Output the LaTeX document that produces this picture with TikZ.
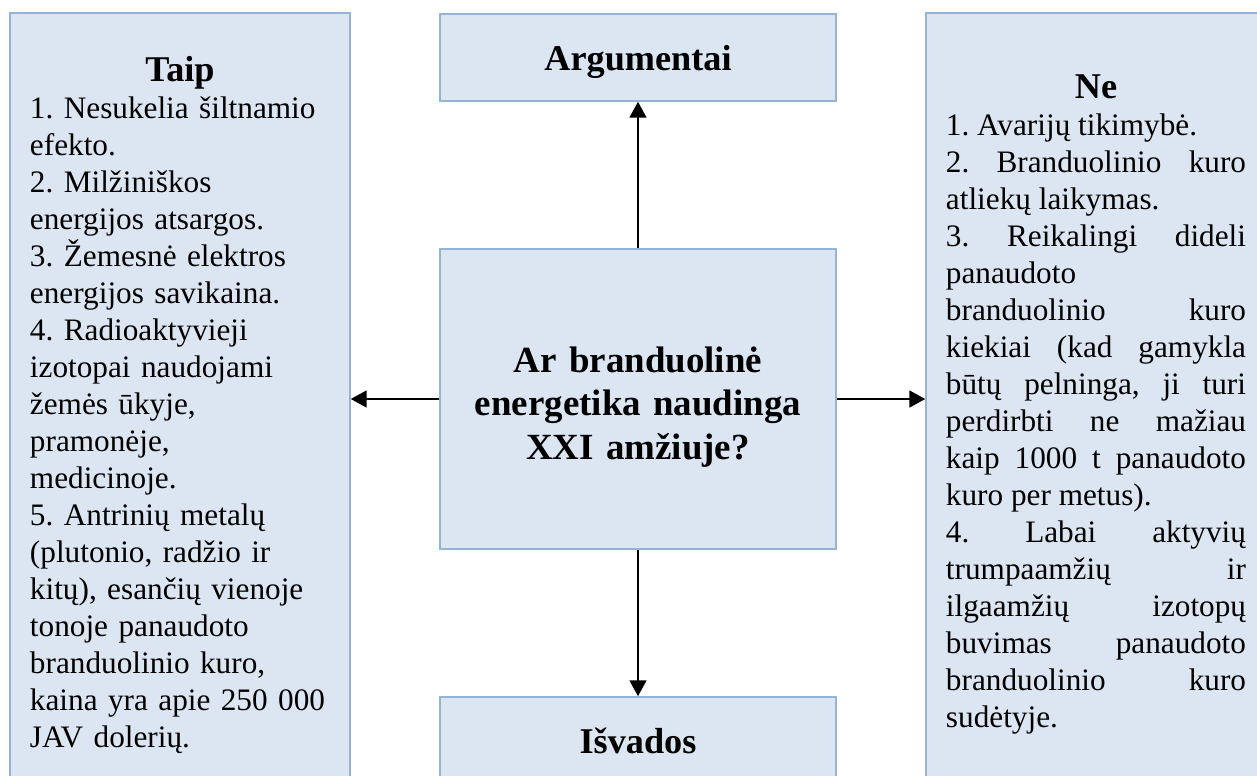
\documentclass[tikz,border=0pt]{standalone}
\usepackage{fontspec}
\setmainfont{Liberation Serif}
\usepackage{tikz}
\usetikzlibrary{positioning, calc}
\usetikzlibrary{arrows.meta}
\definecolor{boxfill}{HTML}{DCE6F2}
\definecolor{boxline}{HTML}{95B3D7}
\frenchspacing
\tolerance=10000
\hbadness=10000
\hyphenpenalty=10000

\begin{document}
\begin{tikzpicture}[x=0.4416pt,y=-0.4416pt,draw=black]
 	\def \colx{638}
 	\def \sidey{405}
 	\def \bodyfont{\fontsize{13.8}{16.34}\selectfont}
 	\def \titlefont{\fontsize{16}{19.2}\selectfont\bfseries}
 	\tikzstyle{b-node}=[rectangle,draw=boxline,fill=boxfill,line width=0.7pt,inner sep=0pt]
 	\tikzstyle{side-node}=[b-node,minimum width=150.1pt,minimum height=346.2pt,text width=132.5pt,font=\bodyfont]
 	\tikzstyle{head-node}=[b-node,minimum width=174.9pt,minimum height=38.4pt,font=\titlefont,text height=11.9pt,text depth=0pt]
 	\tikzstyle{arrow}=[-{Triangle[length=7pt,width=7.4pt]},line width=0.9pt]
 	\useasboundingbox (0,0) rectangle (1257,776);
 	\clip (0,0) rectangle (1257,776);

 	% central question
 	\node[b-node,minimum width=174.9pt,minimum height=132.5pt,text width=174.9pt,align=center,font=\fontsize{16.3}{19.2}\selectfont\bfseries] (question) at (\colx,399)
 		{\rule{0pt}{18.2pt}Ar branduolinė\\energetika naudinga\\XXI amžiuje?};

 	% top and bottom boxes
 	\node[head-node] (arguments) at (\colx,57.5) {Argumentai};
 	\node[head-node] (conclusions) at (\colx,740.5) {Išvados};

 	% side boxes
 	\node[side-node,align=left] (yes) at (180,\sidey)
 		{\makebox[132.5pt]{\titlefont Taip}\\
 		1. Nesukelia šiltnamio\\ efekto.\\
 		2. Milžiniškos\\ energijos atsargos.\\
 		3. Žemesnė elektros\\ energijos savikaina.\\
 		4. Radioaktyvieji\\ izotopai naudojami\\ žemės ūkyje,\\ pramonėje,\\ medicinoje.\\
 		5. Antrinių metalų\\ (plutonio, radžio ir\\ kitų), esančių vienoje\\ tonoje panaudoto\\ branduolinio kuro,\\ kaina yra apie 250~000\\ JAV dolerių.};
 	\node[side-node,align=justify] (no) at (1096,\sidey)
 		{\makebox[132.5pt]{\titlefont Ne}\\
 		1. Avarijų tikimybė.\par
 		2. Branduolinio kuro\linebreak atliekų laikymas.\par
 		3. Reikalingi dideli\linebreak panaudoto\\ branduolinio kuro\linebreak kiekiai (kad gamykla\linebreak būtų pelninga, ji turi\linebreak perdirbti ne mažiau\linebreak kaip 1000 t panaudoto\linebreak kuro per metus).\par
 		4. Labai aktyvių\linebreak trumpaamžių ir\linebreak ilgaamžių izotopų\linebreak buvimas panaudoto\linebreak branduolinio kuro\linebreak sudėtyje.};

 	% arrows
 	\path[arrow] (question) edge (arguments)
 		(question) edge (conclusions)
 		(question.west) edge (question.west -| yes.east)
 		(question.east) edge (question.east -| no.west);
\end{tikzpicture}
\end{document}
